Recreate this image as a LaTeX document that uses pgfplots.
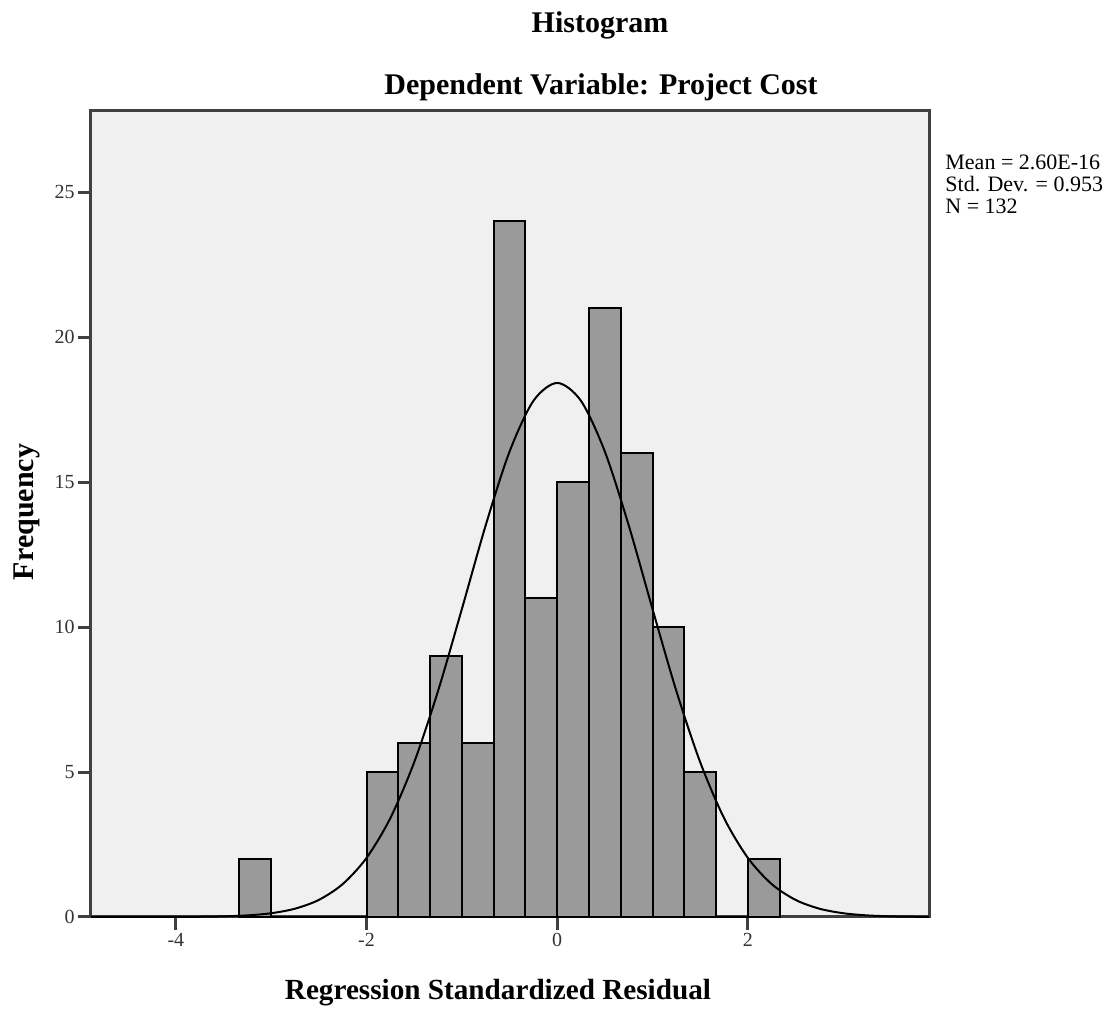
\documentclass[border=0pt]{standalone}
\usepackage{pgfplots}
\pgfplotsset{compat=1.18}
\usepackage{fontspec}
\setmainfont{Liberation Serif}
\definecolor{bg}{RGB}{240,240,240}
\definecolor{barfill}{RGB}{154,154,154}
\definecolor{axgray}{RGB}{64,64,64}
\begin{document}
\begin{tikzpicture}
\useasboundingbox (0,0) rectangle (554.5pt,506pt);
\begin{axis}[
  at={(45.5pt,47.5pt)}, anchor=south west,
  scale only axis, width=419pt, height=403pt,
  xmin=-4.89, xmax=3.90, ymin=0, ymax=27.8,
  axis background/.style={fill=bg},
  axis line style={axgray, line width=1.5pt},
  xtick={-4,-2,0,2}, xticklabels={-4,-2,0,2},
  ytick={0,5,10,15,20,25}, yticklabels={0,5,10,15,20,25},
  xtick pos=lower, ytick pos=left,
  tick align=outside, major tick length=6.5pt,
  tick style={axgray, line width=1.5pt},
  ticklabel style={font=\fontsize{10}{12}\selectfont, text=black!80, inner sep=1.5pt},
  /pgf/number format/assume math mode=true,
  clip=false,
]
\addplot[ybar interval, fill=barfill, draw=black, line width=1pt] coordinates {
(-3.3333,2) (-3,0) (-2.6667,0) (-2.3333,0) (-2,5) (-1.6667,6) (-1.3333,9)
(-1,6) (-0.6667,24) (-0.3333,11) (0,15) (0.3333,21) (0.6667,16) (1,10)
(1.3333,5) (1.6667,0) (2,2) (2.3333,0)
};
\addplot[black, line width=1pt, smooth] coordinates {
(-4.89,0.0000) (-4.5,0.0003) (-4.0,0.0028) (-3.75,0.0080) (-3.5,0.0217)
(-3.25,0.0550) (-3.0,0.1298) (-2.75,0.2866) (-2.5,0.590) (-2.25,1.135)
(-2.0,2.037) (-1.75,3.412) (-1.5,5.338) (-1.25,7.793) (-1.0,10.62)
(-0.75,13.51) (-0.5,16.05) (-0.25,17.80) (0,18.42) (0.25,17.80)
(0.5,16.05) (0.75,13.51) (1.0,10.62) (1.25,7.793) (1.5,5.338)
(1.75,3.412) (2.0,2.037) (2.25,1.135) (2.5,0.590) (2.75,0.2866)
(3.0,0.1298) (3.25,0.0550) (3.5,0.0217) (3.75,0.0080) (3.90,0.0043)
};
\end{axis}
\node[anchor=base, font=\fontsize{15}{18}\selectfont\bfseries] at (300pt,489.5pt) {Histogram};
\node[anchor=base, font=\fontsize{15}{18}\selectfont\bfseries] at (300.5pt,458.5pt) {Dependent Variable: Project Cost};
\node[anchor=base, font=\fontsize{14.6}{18}\selectfont\bfseries] at (249pt,6pt) {Regression Standardized Residual};
\node[anchor=base, rotate=90, font=\fontsize{15}{18}\selectfont\bfseries] at (16.5pt,250pt) {Frequency};
\node[anchor=base west, inner sep=0pt, font=\fontsize{11}{11}\selectfont] at (472.5pt,421pt) {Mean = 2.60E-16};
\node[anchor=base west, inner sep=0pt, font=\fontsize{11}{11}\selectfont] at (472.5pt,410pt) {Std. Dev. = 0.953};
\node[anchor=base west, inner sep=0pt, font=\fontsize{11}{11}\selectfont] at (472.5pt,399pt) {N = 132};
\end{tikzpicture}
\end{document}
